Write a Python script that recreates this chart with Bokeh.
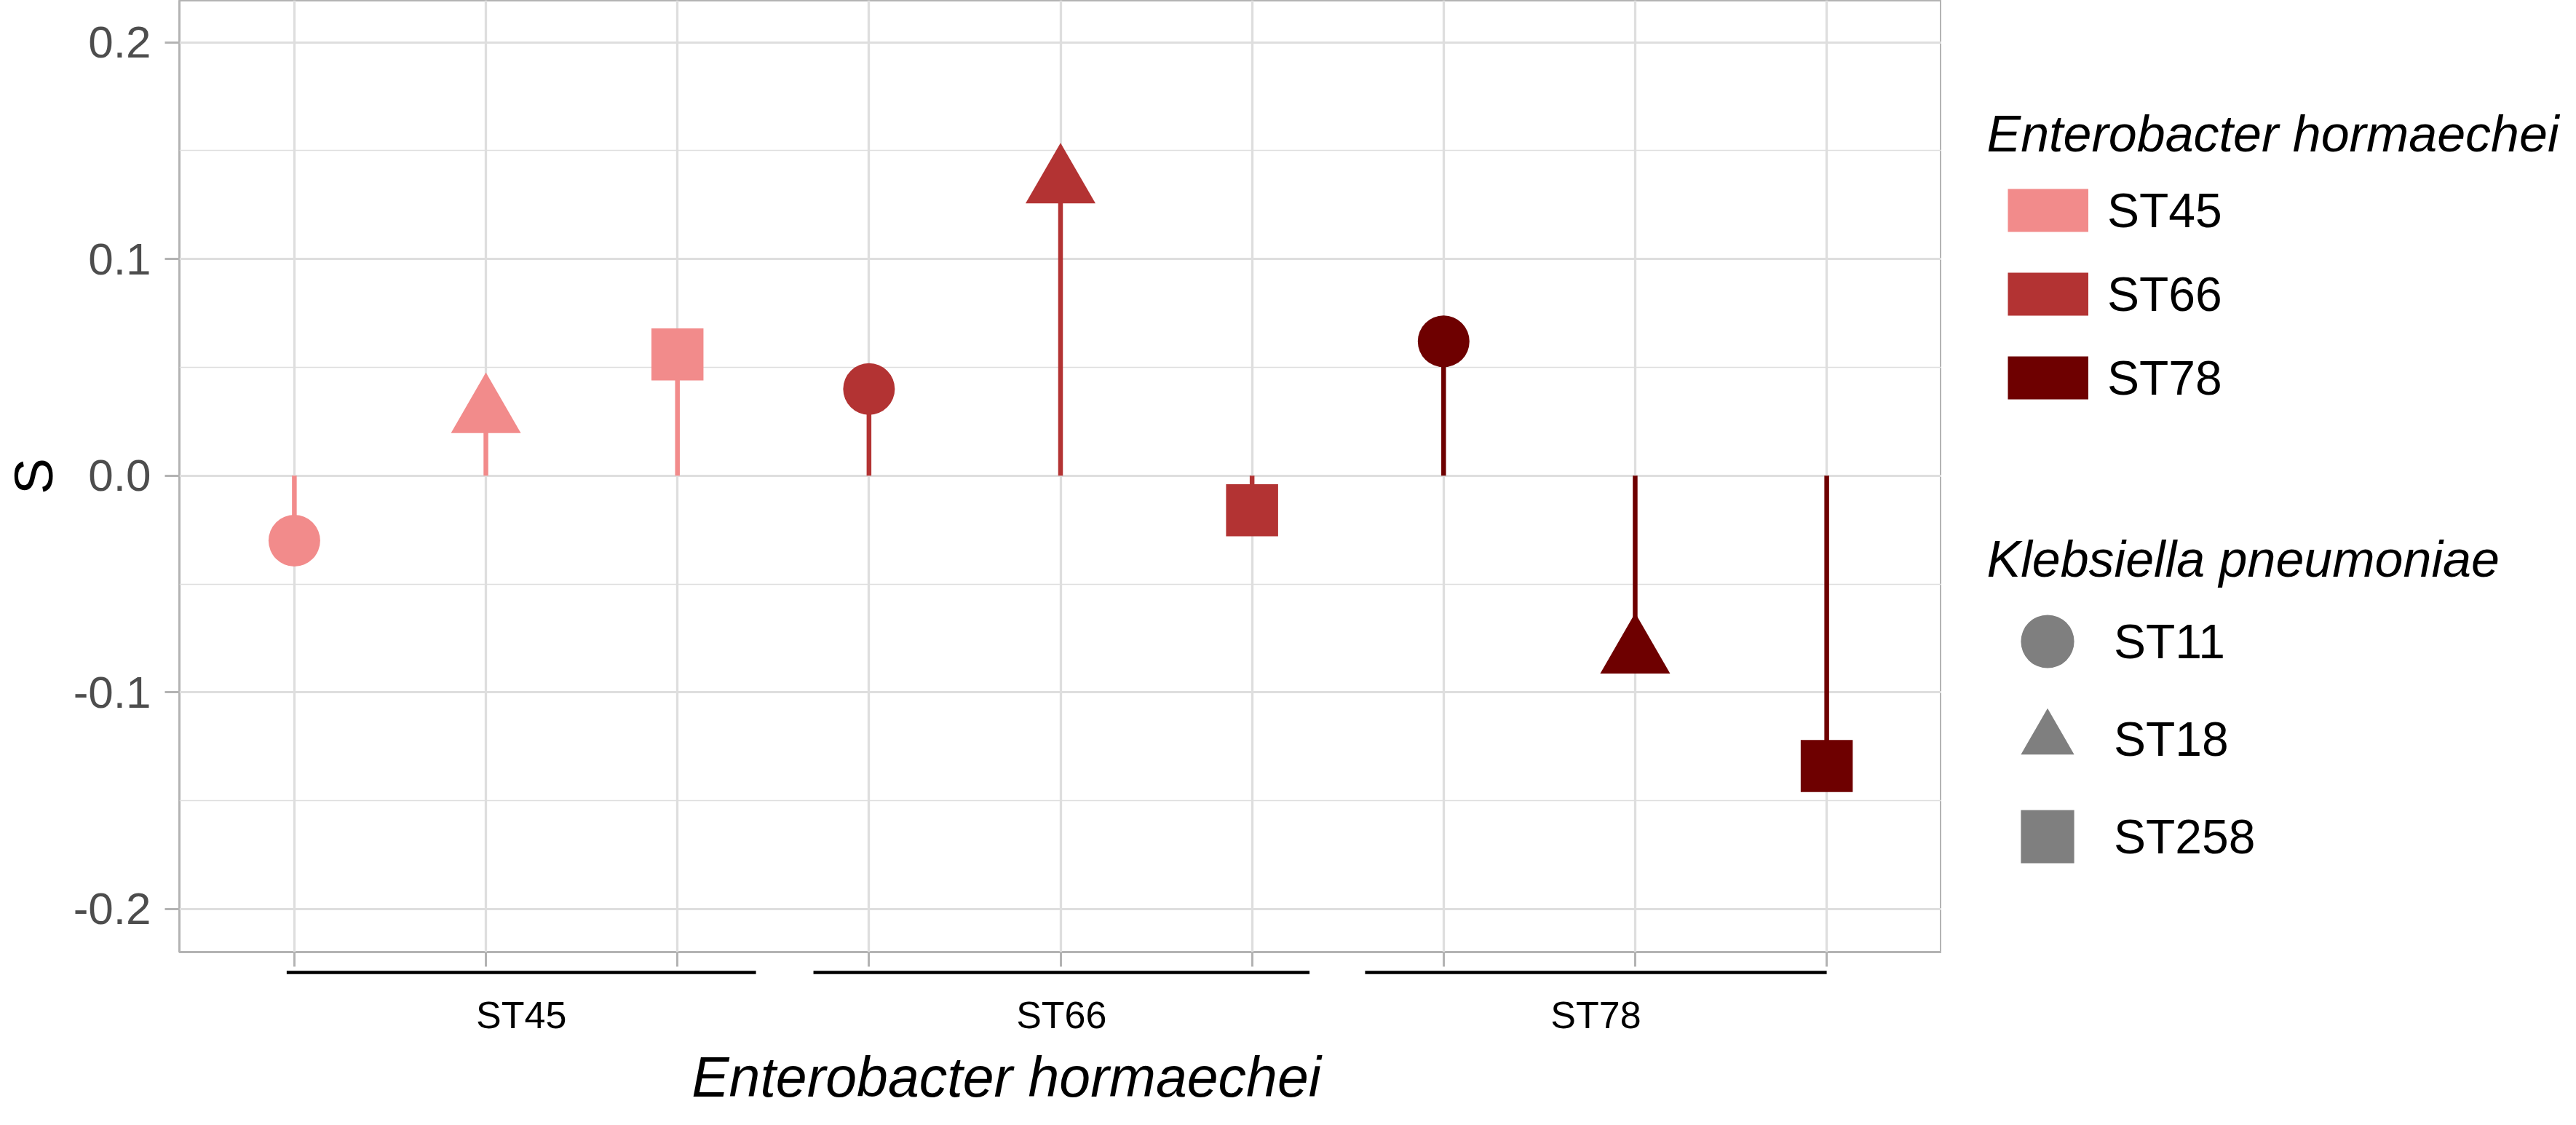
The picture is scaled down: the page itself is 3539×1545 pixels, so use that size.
from bokeh.plotting import figure
from bokeh.layouts import row, column
from bokeh.models import ColumnDataSource, Range1d, FixedTicker, Legend, LegendItem
from bokeh.core.properties import value
from bokeh.embed import file_html
from bokeh.resources import INLINE

# ---------------- data ----------------
positions = [1, 2, 3, 4, 5, 6, 7, 8, 9]
eh_st = ["ST45", "ST45", "ST45", "ST66", "ST66", "ST66", "ST78", "ST78", "ST78"]
kp_st = ["ST11", "ST18", "ST258", "ST11", "ST18", "ST258", "ST11", "ST18", "ST258"]
s_vals = [-0.030, 0.029, 0.056, 0.040, 0.135, -0.016, 0.062, -0.082, -0.134]

eh_levels = ["ST45", "ST66", "ST78"]
kp_levels = ["ST11", "ST18", "ST258"]

y_ticks = [-0.2, -0.1, 0.0, 0.1, 0.2]
y_tick_labels = ["-0.2", "-0.1", "0.0", "0.1", "0.2"]
y_minor = [-0.15, -0.05, 0.05, 0.15]

bracket_start = [0.96, 3.71, 6.59]
bracket_end = [3.41, 6.30, 9.00]

x_title = "Enterobacter hormaechei"
y_title = "S"
legend_title_eh = "Enterobacter hormaechei"
legend_title_kp = "Klebsiella pneumoniae"

# ---------------- styles ----------------
FONT = "Liberation Sans"
eh_colors = {"ST45": "#F28B8B", "ST66": "#B33333", "ST78": "#6E0000"}
kp_markers = {"ST11": "circle", "ST18": "triangle", "ST258": "square"}
kp_sizes = {"ST11": 71, "ST18": 96, "ST258": 71.5}
GRID = "#DEDEDE"
BORDER = "#B3B3B3"
KEY_GREY = "#7F7F7F"

src = ColumnDataSource(dict(
    x=positions,
    s=s_vals,
    zero=[0.0] * len(s_vals),
    color=[eh_colors[g] for g in eh_st],
    marker=[kp_markers[k] for k in kp_st],
    size=[kp_sizes[k] for k in kp_st],
))

# ---------------- main panel ----------------
p = figure(frame_width=2421, frame_height=1307,
           x_range=Range1d(0.4, 9.6), y_range=Range1d(-0.2199, 0.2194),
           min_border_left=241, min_border_right=0, min_border_top=0, min_border_bottom=24,
           output_backend="svg", toolbar_location=None, tools="")
p.outline_line_color = BORDER
p.outline_line_width = 3
p.background_fill_color = "white"
p.border_fill_color = "white"

xt = FixedTicker(ticks=positions)
p.xaxis.ticker = xt
p.xgrid[0].ticker = xt
yt = FixedTicker(ticks=y_ticks, minor_ticks=y_minor)
p.yaxis.ticker = yt
p.ygrid[0].ticker = yt

p.xgrid.grid_line_color = GRID
p.xgrid.grid_line_width = 3.3
p.ygrid.grid_line_color = GRID
p.ygrid.grid_line_width = 3
p.ygrid.minor_grid_line_color = GRID
p.ygrid.minor_grid_line_width = 1.7

for ax in (p.xaxis, p.yaxis):
    ax.axis_line_color = None
    ax.major_tick_line_color = BORDER
    ax.major_tick_line_width = 3
    ax.major_tick_out = 20
    ax.major_tick_in = 0
    ax.minor_tick_line_color = None

p.xaxis.major_label_text_font_size = "0px"
p.xaxis.major_label_standoff = 0
p.xaxis.major_label_overrides = {pos: "" for pos in positions}

p.yaxis.major_label_overrides = dict(zip(y_ticks, y_tick_labels))
p.yaxis.major_label_text_font = FONT
p.yaxis.major_label_text_font_size = "62px"
p.yaxis.major_label_text_color = "#4D4D4D"
p.yaxis.major_label_standoff = 19
p.yaxis.axis_label = y_title
p.yaxis.axis_label_text_font = FONT
p.yaxis.axis_label_text_font_size = "75px"
p.yaxis.axis_label_text_font_style = "normal"
p.yaxis.axis_label_text_color = "black"
p.yaxis.axis_label_standoff = 10

p.segment(x0="x", y0="zero", x1="x", y1="s", line_color="color", line_width=6.5, source=src)
p.scatter(x="x", y="s", marker="marker", size="size", fill_color="color", line_color=None, source=src)

# ---------------- nested x axis strip ----------------
pb = figure(frame_width=2421, frame_height=198, x_range=p.x_range, y_range=Range1d(198, 0),
            min_border_left=241, min_border_right=0, min_border_top=0, min_border_bottom=0,
            x_axis_type=None, y_axis_type=None,
            output_backend="svg", toolbar_location=None, tools="")
pb.outline_line_color = None
pb.segment(x0=bracket_start, y0=[4] * 3, x1=bracket_end, y1=[4] * 3, line_width=4.5, line_color="black")
centers = [(a + b) / 2 for a, b in zip(bracket_start, bracket_end)]
pb.text(x=centers, y=[62] * 3, text=eh_levels, text_align="center", text_baseline="middle",
        text_font=value(FONT), text_font_size="52px", text_color="black")
pb.text(x=[4.717], y=[147], text=[x_title], text_align="center", text_baseline="middle",
        text_font=value(FONT), text_font_size="77px", text_font_style="italic", text_color="black")

# ---------------- legends ----------------
pl = figure(frame_width=861, frame_height=1529, x_range=Range1d(0, 861), y_range=Range1d(1529, 0),
            min_border=0, x_axis_type=None, y_axis_type=None,
            output_backend="svg", toolbar_location=None, tools="")
pl.outline_line_color = None
pl.text(x=[62, 62], y=[183, 767], text=[legend_title_eh, legend_title_kp],
        text_align="left", text_baseline="alphabetic",
        text_font=value(FONT), text_font_size="70px", text_font_style="italic", text_color="black")

# legend key renderers (kept outside the visible area of the legend panel)
fill_rs = [pl.line(x=[-3000, -2990], y=[-3000, -3000], line_width=59, line_color=eh_colors[g])
           for g in eh_levels]
shape_rs = [pl.scatter(x=[-3000], y=[-3000], marker=kp_markers[k], size=10,
                       fill_color=KEY_GREY, line_color=None)
            for k in kp_levels]

common = dict(orientation="vertical", padding=0, margin=0,
              label_text_font=FONT, label_text_font_size="66px", label_text_color="black",
              border_line_color=None, background_fill_alpha=0)

leg1 = Legend(items=[LegendItem(label=g, renderers=[r]) for g, r in zip(eh_levels, fill_rs)],
              location=(91, 953), glyph_width=111, glyph_height=115, spacing=0,
              label_standoff=26, **common)
pl.add_layout(leg1)

shape_bottoms = [557, 423, 289]
for k, r, yb in zip(kp_levels, shape_rs, shape_bottoms):
    leg = Legend(items=[LegendItem(label=k, renderers=[r])],
                 location=(54, yb), glyph_width=183, glyph_height=183, spacing=0,
                 label_standoff=0, **common)
    pl.add_layout(leg)

layout = row(column(p, pb), pl)
open("out.html", "w").write(file_html(layout, INLINE, title="S by sequence type"))
